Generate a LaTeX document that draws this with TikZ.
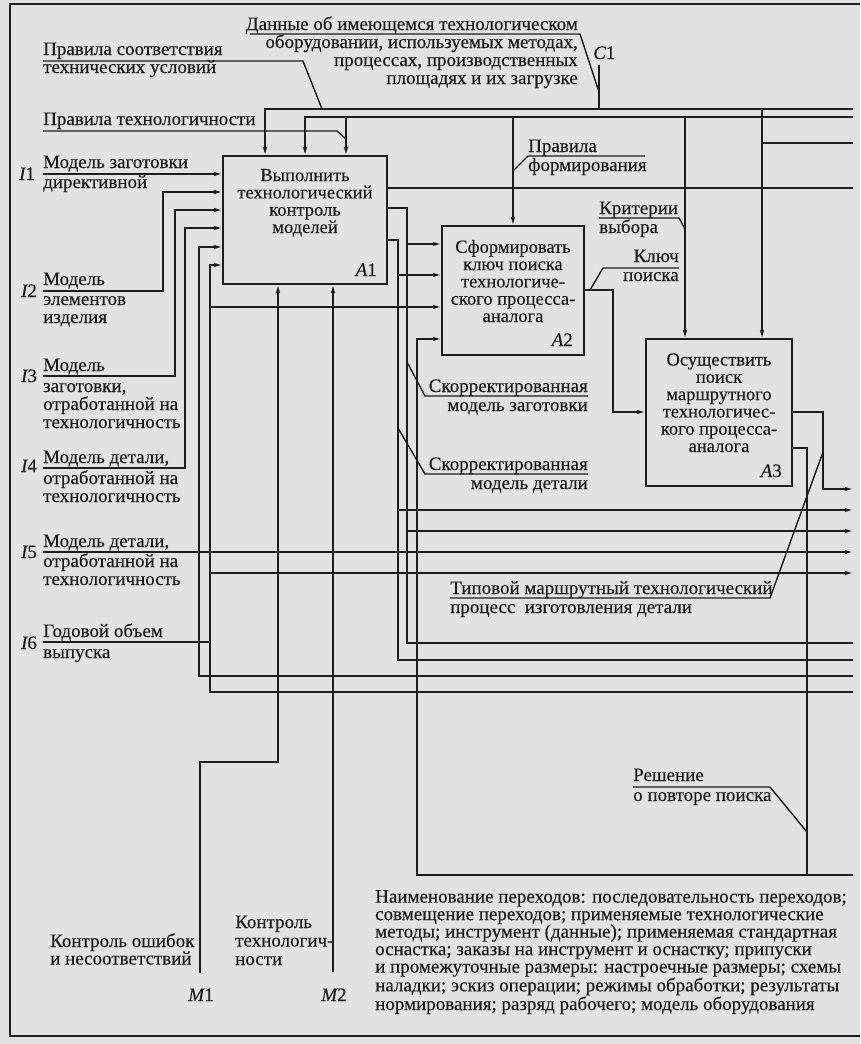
\documentclass[tikz,border=0pt]{standalone}
\usepackage{fontspec}
\setmainfont{Liberation Serif}[FakeBold=0.35]
\usetikzlibrary{arrows.meta}
\definecolor{paper}{RGB}{226,226,226}
\definecolor{ink}{RGB}{28,28,28}
\tikzset{
  wire/.style={draw=ink,line width=1.4pt},
  arr/.style={wire,-{Latex[length=8pt,width=4.5pt]}},
  box/.style={draw=ink,line width=1.6pt,inner sep=0pt},
  txt/.style={inner sep=0pt,text=ink,font=\fontsize{19}{18}\selectfont},
  boxtxt/.style={txt,align=center,anchor=base,font=\fontsize{18.5}{17.3}\selectfont},
  lab/.style={txt,align=left,anchor=base west},
  labr/.style={txt,align=right,anchor=base east},
  num/.style={txt,anchor=base}
}
\begin{document}
\begin{tikzpicture}[x=1pt,y=-1pt]
	\fill[paper] (0,0) rectangle (860,1044);
	\useasboundingbox (0,0) rectangle (860,1044);
	% frame of the page
	\draw[ink,line width=1.7pt] (860,4) -- (10,4) -- (10,1036) -- (860,1036);
	% blocks (text nodes sit on the baseline of their last line)
	\node[box,minimum width=164pt,minimum height=128pt] (A1) at (305,220) {};
	\node[box,minimum width=142pt,minimum height=129pt] (A2) at (513,290.5) {};
	\node[box,minimum width=146pt,minimum height=147pt] (A3) at (719,412.5) {};
	\node[boxtxt] (A1t) at (305,233) {Выполнить\\технологический\\контроль\\моделей};
	\node[boxtxt] (A2t) at (513,322) {Сформировать\\ключ поиска\\технологиче-\\ского процесса-\\аналога};
	\node[boxtxt] (A3t) at (719,452) {Осуществить\\поиск\\маршрутного\\технологичес-\\кого процесса-\\аналога};
	\node[num,anchor=base east] (A1n) at (377,276) {{\itshape A}1};
	\node[num,anchor=base east] (A2n) at (573,346) {{\itshape A}2};
	\node[num,anchor=base east] (A3n) at (782,477) {{\itshape A}3};
	% controls
	\draw[arr] (853,109) -| (A1.north -| 265,0);
	\draw[arr] (853,117) -| (A1.north -| 305,0);
	\draw[arr] (346,117) -- (A1.north -| 346,0);
	\draw[arr] (513,117) -- (A2.north -| 513,0);
	\draw[arr] (685,117) -- (A3.north -| 685,0);
	\draw[arr] (762,109) -- (A3.north -| 762,0);
	\draw[wire] (762,143) -- (853,143);
	\draw[wire] (599,65) -- (599,109);
	\node[txt,anchor=base west] (C1) at (593,59) {{\itshape C}1};
	\node[labr] (data) at (578,84) {Данные об имеющемся технологическом\\оборудовании,\ используемых методах,\\процессах,\ производственных\\площадях и\ их загрузке};
	\draw[wire] (250,34) -- (580,34) -- (599,92);
	\node[lab] (soot) at (43,73) {Правила соответствия\\технических условий};
	\draw[wire] (43,61) -- (303,61) -- (322,109);
	\node[lab] (techn) at (43,125) {Правила технологичности};
	\draw[wire] (43,131) -- (337,131) -- (346,139);
	\node[lab] (form) at (528,171) {Правила\\[1pt]формирования};
	\draw[wire] (645,156) -- (528,156) -- (513,171);
	\node[lab] (krit) at (599,233) {Критерии\\[1pt]выбора};
	\draw[wire] (599,218) -- (679,218) -- (685,229);
	% inputs
	\node[num] (I1) at (27,180) {{\itshape I}1};
	\node[num] (I2) at (29,297) {{\itshape I}2};
	\node[num] (I3) at (29,382) {{\itshape I}3};
	\node[num] (I4) at (29,472) {{\itshape I}4};
	\node[num] (I5) at (29,558) {{\itshape I}5};
	\node[num] (I6) at (29,649) {{\itshape I}6};
	\node[lab] (in1) at (43,188) {Модель заготовки\\[2pt]директивной};
	\node[lab] (in2) at (43,323) {Модель\\[2pt]элементов\\изделия};
	\node[lab] (in3) at (43,428) {Модель\\[3pt]заготовки,\\отработанной на\\технологичность};
	\node[lab] (in4) at (43,502) {Модель детали,\\[3pt]отработанной на\\технологичность};
	\node[lab] (in5) at (43,585) {Модель детали,\\[2pt]отработанной на\\технологичность};
	\node[lab] (in6) at (43,658) {Годовой объем\\[3pt]выпуска};
	\draw[arr] (43,174) -- (A1.west |- 0,174);
	\draw[arr] (43,291) -| (163,192) -- (A1.west |- 0,192);
	\draw[arr] (43,376) -| (175,210) -- (A1.west |- 0,210);
	\draw[arr] (43,468) -| (185,228) -- (A1.west |- 0,228);
	\draw[arr] (43,552) -- (853,552);
	\draw[wire] (199,552) |- (853,676);
	\draw[arr] (199,552) |- (A1.west |- 0,247);
	\draw[wire] (43,642) -- (210,642);
	\draw[arr] (853,692) -| (210,265) -- (A1.west |- 0,265);
	\draw[arr] (210,307) -- (A2.west |- 0,307);
	\draw[arr] (210,573) -- (853,573);
	% outputs of A1
	\draw[wire] (A1.east |- 0,188) -- (853,188);
	\draw[wire] (A1.east |- 0,208) -| (407,643) -- (853,643);
	\draw[arr] (407,244) -- (A2.west |- 0,244);
	\draw[arr] (407,531) -- (853,531);
	\draw[wire] (A1.east |- 0,240) -| (398,660) -- (853,660);
	\draw[arr] (398,275) -- (A2.west |- 0,275);
	\draw[arr] (398,510) -- (853,510);
	\node[labr] (korz) at (588,411) {Скорректированная\\[1pt]модель заготовки};
	\draw[wire] (588,396) -- (425,396) -- (407,362);
	\node[labr] (kord) at (588,489) {Скорректированная\\[1pt]модель детали};
	\draw[wire] (588,474) -- (425,474) -- (398,428);
	% A2 -> A3
	\draw[arr] (A2.east |- 0,290) -- (613,290) |- (A3.west |- 0,412);
	\node[labr] (kluch) at (679,281) {Ключ\\[1pt]поиска};
	\draw[wire] (679,268) -- (603,268) -- (590,290);
	% outputs of A3
	\draw[arr] (A3.east |- 0,412) -- (823,412) |- (853,489);
	\node[lab] (tip) at (450,613) {Типовой\ маршрутный\ технологический\\[1pt]процесс\ \ изготовления детали};
	\draw[wire] (450,598) -- (770,598) -- (823,452);
	\draw[arr] (A3.east |- 0,448) -- (807,448) |- (417,875) |- (A2.west |- 0,339);
	\draw[wire] (807,875) -- (853,875);
	\node[lab] (resh) at (633,801) {Решение\\[2pt]о повторе поиска};
	\draw[wire] (633,787) -- (770,787) -- (807,832);
	% mechanisms
	\draw[arr] (200,973) |- (278,762) -- (A1.south -| 278,0);
	\draw[arr] (333,972) -- (A1.south -| 333,0);
	\node[num] (M1) at (201,1001) {{\itshape M}1};
	\node[num] (M2) at (334,1001) {{\itshape M}2};
	\node[lab,font=\fontsize{19}{17.5}\selectfont] (osh) at (50,964.5) {Контроль ошибок\\и\ несоответствий};
	\node[lab,font=\fontsize{19}{18.5}\selectfont] (ktech) at (235,965) {Контроль\\технологич-\\ности};
	\node[lab,font=\fontsize{19}{17.5}\selectfont] (naim) at (375,1010) {Наименование переходов: последовательность переходов;\\совмещение переходов; применяемые технологические\\методы; инструмент (данные); применяемая стандартная\\оснастка; заказы на инструмент и оснастку; припуски\\и промежуточные размеры: настроечные размеры; схемы\\наладки; эскиз операции; режимы обработки; результаты\\нормирования; разряд рабочего; модель оборудования};
\end{tikzpicture}
\end{document}
